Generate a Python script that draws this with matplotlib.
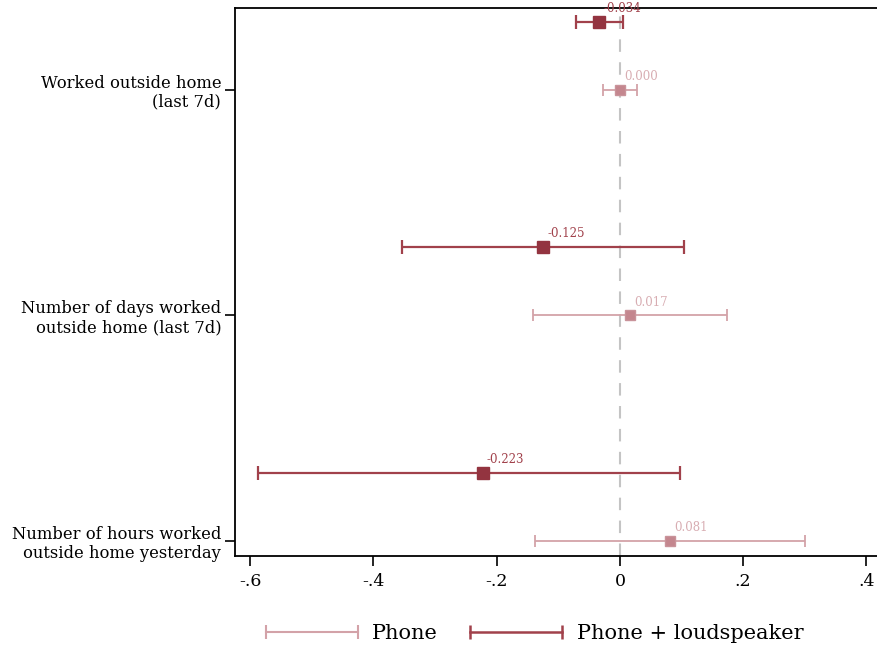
import matplotlib
matplotlib.use("Agg")
import matplotlib.pyplot as plt
from matplotlib.lines import Line2D
from matplotlib.legend_handler import HandlerLine2D

# data
categories = ["Worked outside home\n(last 7d)",
              "Number of days worked\noutside home (last 7d)",
              "Number of hours worked\noutside home yesterday"]
phone_coef = [0.000, 0.017, 0.081]
phone_lo = [-0.027, -0.141, -0.137]
phone_hi = [0.028, 0.174, 0.300]
loud_coef = [-0.034, -0.125, -0.223]
loud_lo = [-0.072, -0.353, -0.588]
loud_hi = [0.005, 0.104, 0.097]

c_phone = "#d3a2a8"
c_phone_mk = "#c4868e"
c_loud = "#a1414b"
c_loud_mk = "#933440"

plt.rcParams["font.family"] = ["DejaVu Serif"]

fig = plt.figure(figsize=(8.78, 6.51), dpi=100)
ax = fig.add_axes([0.2677, 0.146, 0.7323, 0.8417])

n = len(categories)
ypos = [n - 1 - i for i in range(n)]
off = 0.303

ax.axvline(0, color="#c4c4c4", lw=1.5, dashes=(6, 5), zorder=1)

for i in range(n):
    y = ypos[i]
    ax.errorbar(phone_coef[i], y,
                xerr=[[phone_coef[i] - phone_lo[i]], [phone_hi[i] - phone_coef[i]]],
                fmt="s", color=c_phone, ecolor=c_phone, elinewidth=1.3,
                capsize=4.5, capthick=1.3, ms=7.5, mfc=c_phone_mk, mec="#c9939a",
                zorder=3)
    ax.annotate(f"{phone_coef[i]:.3f}", (phone_coef[i], y), xytext=(3, 5),
                textcoords="offset points", fontsize=8.5, color="#d8adb2",
                ha="left", va="bottom")
    y2 = y + off
    ax.errorbar(loud_coef[i], y2,
                xerr=[[loud_coef[i] - loud_lo[i]], [loud_hi[i] - loud_coef[i]]],
                fmt="s", color=c_loud, ecolor=c_loud, elinewidth=1.6,
                capsize=4.7, capthick=1.6, ms=8, mfc=c_loud_mk, mec=c_loud_mk,
                zorder=3)
    ax.annotate(f"{loud_coef[i]:.3f}", (loud_coef[i], y2), xytext=(3, 5),
                textcoords="offset points", fontsize=8.5, color=c_loud,
                ha="left", va="bottom", annotation_clip=False)

ax.set_xlim(-0.6247, 0.419)
ax.set_ylim(-0.066, 2.363)
ax.set_yticks(ypos)
ax.set_yticklabels(categories, fontsize=11.8, linespacing=1.15, ha="right")
xt = [-0.6, -0.4, -0.2, 0, 0.2, 0.4]
ax.set_xticks(xt)
ax.set_xticklabels(["-.6", "-.4", "-.2", "0", ".2", ".4"], fontsize=12.5)
ax.tick_params(axis="both", direction="out", length=7, width=1.2, color="black")
ax.tick_params(axis="x", pad=5)
ax.tick_params(axis="y", pad=3)
for s in ["left", "bottom", "top"]:
    ax.spines[s].set_linewidth(1.3)
ax.spines["right"].set_visible(False)

handles = [Line2D([], [], color=c_phone, lw=1.5, marker="|", ms=10, mew=1.5),
           Line2D([], [], color=c_loud, lw=1.8, marker="|", ms=10, mew=1.8)]
fig.legend(handles, ["Phone", "Phone + loudspeaker"], loc="center",
           bbox_to_anchor=(0.609, 0.027), ncol=2, frameon=False, fontsize=15,
           numpoints=2, handlelength=4.4, handletextpad=0.7, columnspacing=1.55,
           handler_map={Line2D: HandlerLine2D(marker_pad=0)})

fig.savefig("out.png", dpi=100)
